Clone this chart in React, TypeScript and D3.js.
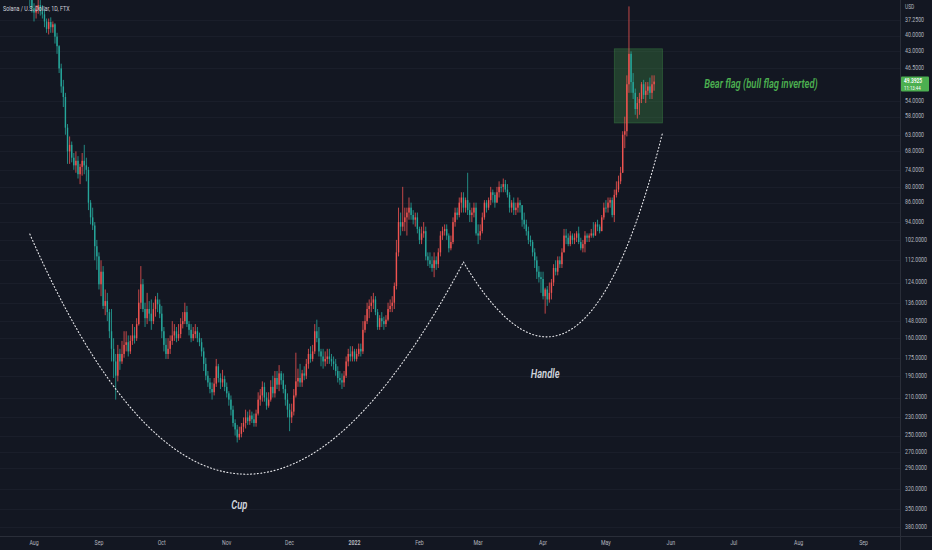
import React, { useMemo } from 'react';
import * as d3 from 'd3';

const WIDTH = 932;
const HEIGHT = 550;
const PANE_R = 900; // right edge of the candle pane, price scale after it
const PANE_B = 536; // bottom edge of the pane, time scale below it
const SQ = 0.75; // the screenshot is squeezed horizontally, so is the text

const BG = '#131722';
const UP = '#26a69a';
const DOWN = '#ef5350';
const AXIS_TEXT = '#b2b5be';

// daily candles, first one is 2021-07-30, open of each day = previous close
const firstDay = '2021-07-30';
const firstOpen = 31.5;

const closes = [
  // Jul
  33.5, 35.3,
  // Aug
  36.0, 35.5, 34.8, 35.8, 36.3, 37.5, 38.8, 37.6, 38.5, 38.0, 40.2, 42.0, 46.5, 50.5, 53.0, 61.0,
  68.0, 66.0, 70.0, 72.5, 71.0, 75.5, 73.0, 71.0, 72.5, 74.0, 86.0, 92.0, 95.5, 105.0, 110.0,
  // Sep
  125, 118, 138, 135, 142, 155, 168, 178, 190, 172, 178, 172, 165, 163, 170, 162, 158, 160, 150,
  136, 125, 140, 146, 140, 143, 148, 140, 134, 137, 143,
  // Oct
  155, 165, 172, 168, 162, 158, 155, 160, 157, 150, 148, 142, 150, 154, 160, 157, 155, 160, 163,
  170, 180, 190, 196, 202, 205, 197, 182, 192, 196, 193, 200,
  // Nov
  206, 212, 222, 236, 243, 252, 248, 240, 236, 230, 234, 228, 232, 236, 226, 212, 208, 200, 210,
  218, 212, 200, 206, 192, 198, 188, 194, 202, 212, 222,
  // Dec
  230, 224, 208, 195, 192, 196, 188, 190, 180, 172, 176, 170, 155, 160, 170, 174, 178, 176, 174,
  176, 178, 180, 186, 192, 194, 196, 190, 178, 172, 174, 170,
  // Jan
  176, 172, 168, 170, 154, 148, 140, 138, 136, 134, 142, 152, 146, 148, 150, 147, 140, 138, 136,
  126, 108, 94, 96, 94, 92, 90, 88, 91, 93, 92, 97,
  // Feb
  102, 99, 98, 110, 112, 114, 116, 112, 114, 108, 100, 98, 97, 100, 106, 103, 94, 90, 91, 86, 84,
  88, 85, 89, 91, 90, 88, 99,
  // Mar
  100, 98, 92, 86, 88, 85, 82, 83, 86, 82, 80, 80, 79, 81, 83, 88, 86, 89, 88, 86, 87, 93, 95, 98,
  102, 103, 108, 112, 118, 121, 122,
  // Apr
  132, 128, 134, 130, 124, 116, 118, 112, 114, 108, 100, 101, 104, 100, 102, 101, 99, 103, 106,
  104, 100, 101, 100, 99, 100, 95, 96, 98, 92, 88,
  // May
  88, 86, 85, 91, 83, 81, 78, 75, 63, 62, 50, 43.5, 49.5, 52, 56, 54.5, 53.5, 50, 52.5, 51.5, 50.5,
  52, 50, 49.3925,
];

const highs = [
  // Jul
  35.0, 36.0,
  // Aug
  37.5, 37.0, 36.2, 36.5, 37.0, 38.5, 39.5, 39.8, 39.5, 39.5, 41.5, 43.5, 47.5, 52.0, 55.5, 63.0,
  72.0, 72.0, 71.5, 74.0, 75.0, 77.0, 79.0, 76.0, 75.5, 78.0, 89.0, 95.0, 97.5, 112.0, 117.0,
  // Sep
  128, 132, 140, 144, 148, 160, 178, 192, 212, 195, 185, 180, 175, 170, 174, 172, 165, 164, 162,
  151, 140, 142, 152, 150, 148, 154, 150, 145, 142, 146,
  // Oct
  160, 170, 176, 176, 172, 165, 162, 163, 162, 160, 153, 150, 152, 158, 163, 162, 160, 163, 166,
  174, 186, 194, 200, 206, 212, 208, 200, 196, 202, 200, 204,
  // Nov
  210, 218, 228, 240, 250, 258, 255, 252, 246, 242, 238, 238, 236, 240, 240, 228, 218, 214, 214,
  222, 220, 214, 210, 210, 202, 204, 198, 206, 218, 230,
  // Dec
  245, 236, 228, 210, 200, 200, 200, 194, 193, 184, 179, 178, 172, 163, 174, 182, 184, 182, 180,
  180, 182, 185, 190, 196, 198, 202, 200, 192, 182, 178, 178,
  // Jan
  178, 178, 174, 174, 172, 156, 150, 146, 142, 140, 144, 154, 154, 152, 154, 152, 148, 142, 142,
  140, 128, 110, 100, 98, 98, 100, 93, 93, 95, 96, 99,
  // Feb
  104, 104, 101, 112, 115, 116, 118, 121, 117, 116, 110, 102, 100, 102, 108, 107, 104, 96, 93, 92,
  90, 90, 90, 91, 94, 94, 92, 100,
  // Mar
  104, 102, 99, 93, 90, 89, 87, 86, 88, 86, 84, 82, 82, 82, 84, 90, 90, 91, 91, 90, 90, 96, 97, 100,
  104, 105, 110, 116, 122, 124, 130,
  // Apr
  134, 143, 138, 136, 134, 126, 120, 120, 116, 116, 108, 104, 105, 105, 104, 104, 103, 104, 107,
  108, 108, 103, 103, 101, 101, 100, 98, 99, 98, 93,
  // May
  90, 90, 88, 92, 94, 84, 82, 79, 75, 67, 63.5, 52, 52, 53.5, 57.5, 58.5, 57.5, 54.5, 53.5, 54.5,
  52.5, 53.5, 53.5, 51.5,
];

const lows = [
  // Jul
  31.0, 33.0,
  // Aug
  34.5, 34.8, 33.8, 34.0, 34.8, 35.5, 37.0, 37.0, 36.8, 37.5, 37.8, 39.5, 41.8, 45.5, 49.0, 52.0,
  60.0, 63.5, 65.0, 68.5, 68.0, 69.5, 72.0, 68.5, 66.0, 70.0, 73.0, 85.0, 88.0, 94.0, 102.0,
  // Sep
  108, 112, 115, 128, 130, 140, 140, 160, 172, 165, 168, 162, 155, 155, 158, 158, 150, 152, 146,
  128, 115, 122, 136, 130, 135, 134, 136, 132, 130, 134,
  // Oct
  138, 152, 160, 160, 158, 148, 150, 152, 150, 146, 142, 136, 138, 148, 150, 152, 150, 152, 156,
  160, 167, 175, 186, 192, 196, 192, 176, 180, 188, 185, 190,
  // Nov
  196, 204, 208, 218, 232, 238, 240, 236, 230, 222, 224, 222, 224, 226, 222, 205, 202, 195, 196,
  205, 205, 194, 190, 186, 186, 181, 186, 188, 198, 206,
  // Dec
  216, 216, 202, 171, 184, 180, 185, 182, 176, 168, 166, 165, 150, 147, 152, 168, 168, 170, 168,
  168, 172, 174, 176, 182, 186, 188, 186, 174, 168, 166, 166,
  // Jan
  168, 168, 164, 164, 148, 144, 136, 134, 132, 130, 132, 140, 144, 142, 145, 144, 136, 134, 132,
  124, 102, 88, 90, 80, 88, 88, 84, 86, 89, 90, 90,
  // Feb
  96, 96, 94, 96, 108, 108, 110, 108, 110, 106, 98, 96, 95, 95, 99, 100, 92, 88, 88, 84, 82, 82,
  84, 75, 86, 88, 86, 86,
  // Mar
  95, 95, 90, 85, 85, 84, 80, 81, 82, 80, 78, 79, 77, 77.5, 79, 82, 85, 84, 86, 84, 85, 87, 90, 93,
  96, 100, 102, 106, 110, 115, 118,
  // Apr
  118, 127, 126, 124, 122, 114, 112, 110, 110, 106, 97, 97, 99, 98, 99, 99, 98, 96, 101, 102, 98,
  99, 99, 97, 94, 94, 93, 95, 91, 86,
  // May
  85, 84, 84, 84, 81, 78, 76, 73, 62, 58, 48, 35, 43, 47.5, 51, 53, 52, 49.5, 49, 49.5, 49.5, 48.5,
  48, 48,
];

const priceTicks = [
  37.25, 40, 43, 46.5, 54, 58, 63, 68, 74, 80, 86, 94, 102, 112, 124, 136, 148, 160, 175, 190, 210,
  230, 250, 270, 290, 320, 350, 380,
];
const timeTicks = [
  '2021-08-01', '2021-09-01', '2021-10-01', '2021-11-01', '2021-12-01', '2022-01-01', '2022-02-01',
  '2022-03-01', '2022-04-01', '2022-05-01', '2022-06-01', '2022-07-01', '2022-08-01', '2022-09-01',
];

const symbolTitle = 'Solana / U.S. Dollar, 1D, FTX';
const currency = 'USD';
const countdown = '11:13:44';

// drawings on the chart, as [date, price]
const cupCurve: [string, number][] = [
  ['2021-07-30', 99.3],
  ['2021-11-04', 839],
  ['2022-02-22', 112.9],
];
const handleCurve: [string, number][] = [
  ['2022-02-22', 112.9],
  ['2022-04-19', 280],
  ['2022-05-28', 62.5],
];
const flagBox: [string, number][] = [
  ['2022-05-05', 42.5],
  ['2022-05-28', 59.7],
];
const notes = [
  { text: 'Cup', date: '2021-11-07', price: 344, color: '#d1d4dc' },
  { text: 'Handle', date: '2022-04-02', price: 189, color: '#d1d4dc' },
  { text: 'Bear flag (bull flag inverted)', date: '2022-07-14', price: 50, color: '#4caf50' },
];

const FONT = "Roboto, 'Noto Sans', sans-serif";

const SqText = ({ x, y, children, ...rest }: any) => (
  <text transform={`translate(${x},${y}) scale(${SQ},1)`} {...rest}>
    {children}
  </text>
);

const App = () => {
  const xScale = useMemo(
    () =>
      d3
        .scaleUtc()
        .domain([new Date('2021-08-01'), new Date('2022-09-01')])
        .range([34, 863.6]),
    []
  );
  const yScale = useMemo(() => d3.scaleLog().domain([37.25, 380]).range([20, 527]), []);

  const candles = useMemo(() => {
    const start = new Date(firstDay);
    return closes.map((c, i) => {
      const o = i === 0 ? firstOpen : closes[i - 1];
      return {
        date: d3.utcDay.offset(start, i),
        o,
        c,
        h: Math.max(highs[i], o, c),
        l: Math.min(lows[i], o, c),
      };
    });
  }, []);

  const curvePath = (pts: [string, number][]) => {
    const [p0, cp, p2] = pts.map(([d, p]) => [xScale(new Date(d)), yScale(p)]);
    const path = d3.path();
    path.moveTo(p0[0], p0[1]);
    path.quadraticCurveTo(cp[0], cp[1], p2[0], p2[1]);
    return path.toString();
  };

  const last = candles[candles.length - 1];
  const lastY = yScale(last.c);
  const fx0 = xScale(new Date(flagBox[0][0]));
  const fx1 = xScale(new Date(flagBox[1][0]));
  const fy0 = yScale(flagBox[0][1]);
  const fy1 = yScale(flagBox[1][1]);

  const timeFmt = (d: Date) => (d.getUTCMonth() === 0 ? String(d.getUTCFullYear()) : d3.utcFormat('%b')(d));

  return (
    <svg
      width={WIDTH}
      height={HEIGHT}
      style={{ position: 'absolute', left: 0, top: 0, display: 'block', background: BG }}
      fontFamily={FONT}
    >
      <rect width={WIDTH} height={HEIGHT} fill={BG} />
      <defs>
        <clipPath id="pane">
          <rect x={0} y={0} width={PANE_R} height={PANE_B} />
        </clipPath>
      </defs>

      {/* grid */}
      <g stroke="#1a1e2a" strokeWidth={1}>
        {priceTicks.map((p) => (
          <line key={p} x1={0} x2={PANE_R} y1={Math.round(yScale(p)) + 0.5} y2={Math.round(yScale(p)) + 0.5} />
        ))}
      </g>

      <g clipPath="url(#pane)">
        {/* flag box */}
        <rect
          x={fx0}
          y={fy0}
          width={fx1 - fx0}
          height={fy1 - fy0}
          fill="rgba(76,175,80,0.27)"
          stroke="rgba(76,175,80,0.35)"
          strokeWidth={0.8}
        />

        {/* candles */}
        {candles.map((d, i) => {
          const cx = xScale(d.date);
          const color = d.c >= d.o ? UP : DOWN;
          const yTop = yScale(Math.min(d.o, d.c));
          const yBot = yScale(Math.max(d.o, d.c));
          return (
            <g key={i}>
              <line x1={cx} x2={cx} y1={yScale(d.l)} y2={yScale(d.h)} stroke={color} strokeWidth={0.8} />
              <rect x={cx - 0.7} y={yTop} width={1.4} height={Math.max(yBot - yTop, 0.8)} fill={color} />
            </g>
          );
        })}

        {/* cup & handle */}
        <g fill="none" stroke="#e8e8ec" strokeWidth={1.1} strokeDasharray="1 2.4" strokeLinecap="round">
          <path d={curvePath(cupCurve)} />
          <path d={curvePath(handleCurve)} />
        </g>

        {notes.map((n) => (
          <SqText
            key={n.text}
            x={xScale(new Date(n.date))}
            y={yScale(n.price)}
            fill={n.color}
            fontSize={12.5}
            fontStyle="italic"
            fontWeight={600}
            textAnchor="middle"
            dominantBaseline="middle"
          >
            {n.text}
          </SqText>
        ))}
      </g>

      {/* title */}
      <SqText x={3} y={11} fill="#d1d4dc" fontSize={7.2}>
        {symbolTitle}
      </SqText>

      {/* scale borders */}
      <line x1={PANE_R + 0.5} x2={PANE_R + 0.5} y1={0} y2={HEIGHT} stroke="#2a2e39" />
      <line x1={0} x2={WIDTH} y1={PANE_B + 0.5} y2={PANE_B + 0.5} stroke="#2a2e39" />

      {/* price scale */}
      <SqText x={905} y={7} fill={AXIS_TEXT} fontSize={6.5} dominantBaseline="middle">
        {currency}
      </SqText>
      {priceTicks.map((p) => (
        <SqText key={p} x={905} y={yScale(p)} fill={AXIS_TEXT} fontSize={7} dominantBaseline="middle">
          {p.toFixed(4)}
        </SqText>
      ))}
      <rect x={901} y={lastY - 5} width={28} height={15} rx={1} fill="#4caf50" />
      <SqText x={904} y={lastY} fill="#ffffff" fontSize={6.5} fontWeight={600} dominantBaseline="middle">
        {last.c.toFixed(4)}
      </SqText>
      <SqText x={904} y={lastY + 6.5} fill="#ffffff" fontSize={5.8} dominantBaseline="middle">
        {countdown}
      </SqText>

      {/* time scale */}
      {timeTicks.map((t) => {
        const d = new Date(t);
        return (
          <SqText
            key={t}
            x={xScale(d)}
            y={543.5}
            fill={AXIS_TEXT}
            fontSize={7}
            fontWeight={d.getUTCMonth() === 0 ? 700 : 400}
            textAnchor="middle"
            dominantBaseline="middle"
          >
            {timeFmt(d)}
          </SqText>
        );
      })}
    </svg>
  );
};

export default App;
